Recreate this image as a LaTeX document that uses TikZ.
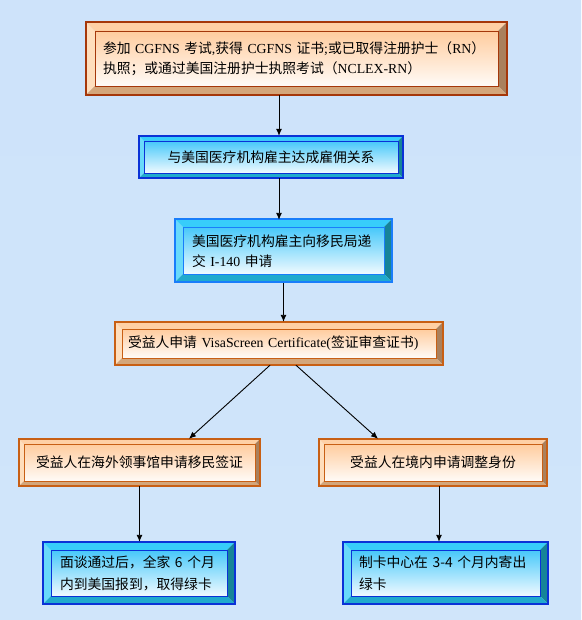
\documentclass[tikz,border=0pt]{standalone}
\usepackage{fontspec}
\setmainfont{Noto Sans CJK SC}
\newfontfamily\lat{Liberation Serif}
\usetikzlibrary{arrows.meta}
\definecolor{bgtop}{RGB}{206,227,250}
\definecolor{bgmid}{RGB}{246,249,254}
\definecolor{bgbot}{RGB}{208,229,250}
% orange scheme
\definecolor{oL}{RGB}{255,222,188}
\definecolor{oT}{RGB}{255,208,165}
\definecolor{oR}{RGB}{170,128,92}
\definecolor{oB}{RGB}{212,166,122}
\definecolor{oFT}{RGB}{255,204,158}
\definecolor{oFB}{RGB}{255,251,247}
\definecolor{oLine}{RGB}{200,95,20}
\definecolor{oLineD}{RGB}{165,55,10}
% blue scheme
\definecolor{bL}{RGB}{105,218,250}
\definecolor{bT}{RGB}{55,205,250}
\definecolor{bR}{RGB}{22,132,152}
\definecolor{bB}{RGB}{32,170,205}
\definecolor{bFT}{RGB}{70,200,250}
\definecolor{bFB}{RGB}{240,250,255}
\definecolor{bLine}{RGB}{10,50,215}
\definecolor{bLineL}{RGB}{25,125,250}
\newcommand\bevelbox[7]{%
  \fill[#6L] (#1,#2) -- ({#1+#5},{#2+#5}) -- ({#1+#5},{#4-#5}) -- (#1,#4) -- cycle;
  \fill[#6T] (#1,#2) -- (#3,#2) -- ({#3-#5},{#2+#5}) -- ({#1+#5},{#2+#5}) -- cycle;
  \fill[#6R] (#3,#2) -- (#3,#4) -- ({#3-#5},{#4-#5}) -- ({#3-#5},{#2+#5}) -- cycle;
  \fill[#6B] (#1,#4) -- (#3,#4) -- ({#3-#5},{#4-#5}) -- ({#1+#5},{#4-#5}) -- cycle;
  \shade[top color=#6FT, bottom color=#6FB] ({#1+#5},{#2+#5}) rectangle ({#3-#5},{#4-#5});
  \draw[#7, line width=0.5pt] ({#1+#5},{#2+#5}) rectangle ({#3-#5},{#4-#5});
  \draw[#7, line width=1.2pt] (#1,#2) rectangle (#3,#4);
}
\tikzset{
  txt/.style={font=\fontsize{13.8pt}{20pt}\selectfont, inner ysep=0pt, text=black},
  arr/.style={draw=black, line width=0.9pt, -{Latex[length=7pt,width=6pt]}}
}
\begin{document}
\begin{tikzpicture}[x=1pt,y=-1pt]
\shade[top color=bgtop, middle color=bgmid, bottom color=bgbot] (0,0) rectangle (581,620);
\useasboundingbox (0,0) rectangle (581,620);

\bevelbox{86}{22}{507}{95}{9}{o}{oLineD}
\node[txt, minimum height=73pt, text width=387pt, inner xsep=17pt, align=left] (b1) at (296.5,58.5)
  {参加 {\lat CGFNS} 考试{\lat ,}获得 {\lat CGFNS} 证书{\lat ;}或已取得注册护士（{\lat RN}）\\
   执照；或通过美国注册护士执照考试（{\lat NCLEX-RN}）};

\bevelbox{139}{136}{403}{178}{5}{b}{bLine}
\node[txt, minimum width=264pt, minimum height=42pt, align=center] (b2) at (271,157)
  {与美国医疗机构雇主达成雇佣关系};

\bevelbox{175}{219}{392}{282}{8}{b}{bLineL}
\node[txt, minimum height=63pt, text width=183pt, inner xsep=17pt, align=left] (b3) at (283.5,251.5)
  {美国医疗机构雇主向移民局递\\交 {\lat I-140} 申请};

\bevelbox{115}{322}{443}{365}{7}{o}{oLine}
\node[txt, minimum height=43pt, text width=302pt, inner xsep=13pt, align=left] (b4) at (279,343.5)
  {受益人申请 {\lat VisaScreen Certificate(}签证审查证书{\lat )}};

\bevelbox{19}{439}{260}{486}{5}{o}{oLine}
\node[txt, minimum width=241pt, minimum height=47pt, align=center] (b5l) at (139.5,462.5)
  {受益人在海外领事馆申请移民签证};

\bevelbox{319}{439}{547}{486}{5}{o}{oLine}
\node[txt, minimum width=228pt, minimum height=47pt, align=center] (b5r) at (433,462.5)
  {受益人在境内申请调整身份};

\bevelbox{43}{542}{235}{604}{8}{b}{bLine}
\node[txt, font=\fontsize{13.8pt}{22pt}\selectfont, minimum height=62pt, text width=158pt, inner xsep=17pt, align=left] (b6l) at (139,573)
  {面谈通过后，全家 6 个月\\内到美国报到，取得绿卡};

\bevelbox{343}{542}{548}{604}{8}{b}{bLine}
\node[txt, font=\fontsize{13.8pt}{22pt}\selectfont, minimum height=62pt, text width=173pt, inner xsep=16pt, align=left] (b6r) at (445.5,573)
  {制卡中心在 3-4 个月内寄出\\绿卡};

\draw[arr] ([xshift=-17.5pt]b1.south) -- ([xshift=-17.5pt]b1.south |- b2.north);
\draw[arr] ([xshift=8pt]b2.south) -- ([xshift=8pt]b2.south |- b3.north);
\draw[arr] (b3.south) -- (b3.south |- b4.north);
\draw[arr] ([xshift=-9pt]b4.south) -- ([xshift=49.5pt]b5l.north);
\draw[arr] ([xshift=17pt]b4.south) -- ([xshift=-55pt]b5r.north);
\draw[arr] (b5l.south) -- (b5l.south |- b6l.north);
\draw[arr] ([xshift=6pt]b5r.south) -- ([xshift=6pt]b5r.south |- b6r.north);
\end{tikzpicture}
\end{document}
